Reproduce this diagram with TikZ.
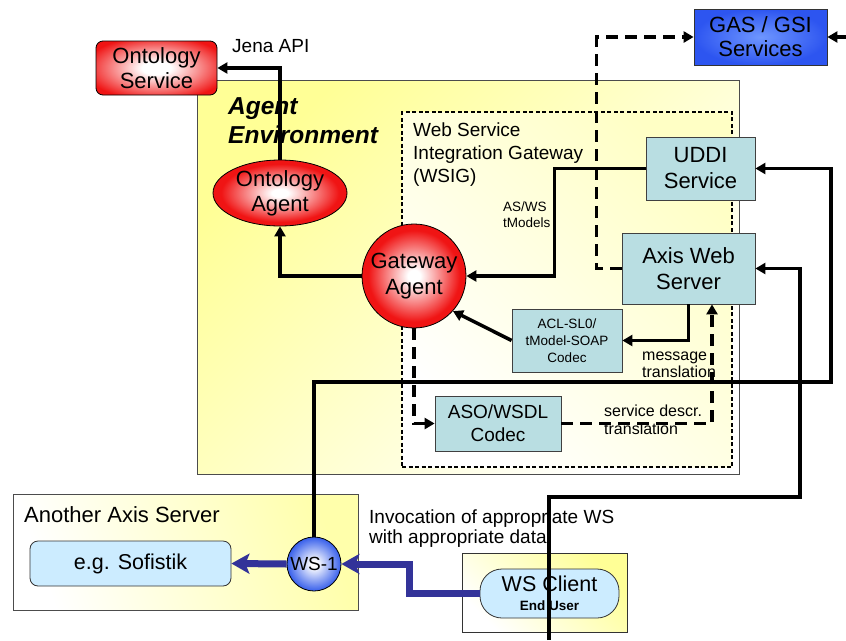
\documentclass[tikz,border=0pt]{standalone}
\usepackage{fontspec}
\setmainfont{Liberation Sans}
\usetikzlibrary{arrows.meta,shapes.geometric}
\definecolor{redfill}{RGB}{240,20,20}
\definecolor{tealfill}{RGB}{185,222,226}
\definecolor{lblue}{RGB}{204,236,255}
\definecolor{gasblue}{RGB}{45,85,240}
\definecolor{gasinner}{RGB}{110,150,255}
\definecolor{wsblue}{RGB}{55,95,235}
\definecolor{lineblue}{RGB}{51,51,153}
\definecolor{yel}{RGB}{255,255,150}
\pgfdeclareradialshading{redball}{\pgfpoint{0bp}{0bp}}{color(0bp)=(white); color(3bp)=(white); color(22bp)=(redfill); color(50bp)=(redfill)}
\pgfdeclareradialshading{redrect}{\pgfpoint{0bp}{0bp}}{color(0bp)=(white); color(6bp)=(white); color(30bp)=(redfill); color(50bp)=(redfill)}
\pgfdeclareradialshading{blueball}{\pgfpoint{0bp}{0bp}}{color(0bp)=(white); color(3bp)=(white); color(25bp)=(wsblue); color(50bp)=(wsblue)}
\newcommand\myfs[2]{\fontsize{#1}{#2}\selectfont}
\begin{document}
\begin{tikzpicture}[x=1pt,y=-1pt,
  every node/.style={inner sep=0pt, align=center},
  redn/.style={draw=black, line width=0.8pt, shading=redball},
  tealn/.style={draw=black!75, line width=0.8pt, fill=tealfill},
  wire/.style={line width=3.5pt, -{Triangle[length=10pt,width=11pt]}},
  dwire/.style={line width=3.5pt, dash pattern=on 12pt off 7pt, -{Triangle[length=10pt,width=11pt]}},
  bwire/.style={line width=7pt, draw=lineblue, -{Stealth[length=18pt,width=20pt,inset=4pt]}},
]
\useasboundingbox (0,0) rectangle (846,640);
\fill[white] (0,0) rectangle (846,640);

% containers
\node[draw=black!70, line width=0.8pt, top color=yel, bottom color=white, shading angle=45,
      minimum width=542pt, minimum height=394pt] (env) at (468,277) {};
\node[draw=black, line width=1.2pt, dash pattern=on 4pt off 2.5pt, top color=yel!55, bottom color=white,
      shading angle=-45, minimum width=330pt, minimum height=355pt] (wsig) at (567,289.5) {};
\node[draw=black!70, line width=0.8pt, top color=yel!80, bottom color=white, shading angle=-70,
      minimum width=345pt, minimum height=116pt] (another) at (185.5,552) {};
\node[draw=black!80, line width=0.8pt, top color=yel, bottom color=white, shading angle=-45,
      minimum width=165pt, minimum height=79pt] (wscbox) at (544.5,592.5) {};

% labels
\node[anchor=west, font=\myfs{19}{22}] (jena) at (232,46) {Jena API};
\node[anchor=north west, align=left, font=\myfs{24.5}{29}\bfseries\itshape] (envlbl) at (228,97) {Agent\\Environment};
\node[anchor=north west, align=left, font=\myfs{19}{23}] (wsiglbl) at (413,123) {Web Service\\Integration Gateway\\(WSIG)};
\node[anchor=north west, align=left, font=\myfs{13.5}{16}] (tmod) at (503,202) {AS/WS\\tModels};
\node[anchor=north west, align=left, font=\myfs{16}{17}] (msg) at (642,352) {message\\translation};
\node[anchor=north west, align=left, font=\myfs{16}{18}] (sdt) at (604,405) {service descr.\\translation};
\node[anchor=north west, align=left, font=\myfs{19}{20}] (inv) at (369,510) {Invocation of appropriate WS\\with appropriate data};
\node[anchor=base west, font=\myfs{22}{24}] (anolbl) at (24,522) {Another Axis Server};

% main nodes
\node[draw=black, line width=0.8pt, shading=redrect, rounded corners=7pt, minimum width=121pt, minimum height=54pt, font=\myfs{22}{25}] (ontserv) at (156.5,68) {Ontology\\Service};
\node[redn, ellipse, minimum width=134pt, minimum height=66pt, font=\myfs{22}{25}] (ontagent) at (280,193) {Ontology\\Agent};
\node[redn, circle, minimum size=104pt, font=\myfs{22}{26}] (gw) at (414,276) {Gateway\\Agent};
\node[tealn, minimum width=109pt, minimum height=63pt, font=\myfs{22}{26}] (uddi) at (700.5,168.5) {UDDI\\Service};
\node[tealn, minimum width=133pt, minimum height=71pt, font=\myfs{22}{26}] (axis) at (688.5,268.5) {Axis Web\\Server};
\node[draw=black!80, line width=0.8pt, shade, inner color=gasinner, outer color=gasblue,
      minimum width=133pt, minimum height=56pt, font=\myfs{22}{24}] (gas) at (760.5,37) {GAS / GSI\\Services};
\node[tealn, minimum width=110pt, minimum height=63pt, font=\myfs{13.5}{17}] (acl) at (567,340.5) {ACL-SL0/\\tModel-SOAP\\Codec};
\node[tealn, minimum width=126pt, minimum height=55pt, font=\myfs{19}{23}] (aso) at (498,423.5) {ASO/WSDL\\Codec};
\node[draw=black!80, line width=0.8pt, fill=lblue, rounded corners=8pt, minimum width=201pt,
      minimum height=45pt, font=\myfs{21.5}{24}] (sof) at (130.5,563.5) {e.g. Sofistik};
\node[draw=black, line width=0.8pt, circle, shading=blueball,
      minimum size=54pt, font=\myfs{19}{22}] (ws1) at (314,564) {WS-1};
\node[draw=black!80, line width=0.8pt, fill=lblue, rounded corners=22pt, minimum width=139pt,
      minimum height=49pt, font=\myfs{21.5}{19}] (wsc) at (549.5,593.5) {WS Client\\{\myfs{13.5}{19}\bfseries End User}};

% connectors
\coordinate (rgt) at (846,37);
\coordinate (bot) at (549,640);
\draw[wire] (ontagent.north) |- (ontserv.east);
\draw[wire] (gw.west) -| (ontagent.south);
\draw[wire] (uddi.west) -- ++(-91,0) |- (gw.east);
\draw[wire] (acl.west) -- (gw.-42);
\draw[wire] (axis.south) |- (acl.east);
\draw[dwire] (gw.south) |- (aso.west);
\draw[dwire] (aso.east) -| ([xshift=23.5pt]axis.south);
\draw[dwire] (axis.west) -- ++(-25,0) |- (gas.west);
\draw[wire] (rgt) -- (gas.east);
\draw[wire] (ws1.north) |- (831,382) |- (uddi.east);
\draw[wire] (bot) |- (800,497) |- (axis.east);
\draw[bwire] (ws1.west) -- (sof.east);
\draw[bwire] (wsc.west) -- ++(-70,0) |- (ws1.east);
\end{tikzpicture}
\end{document}
